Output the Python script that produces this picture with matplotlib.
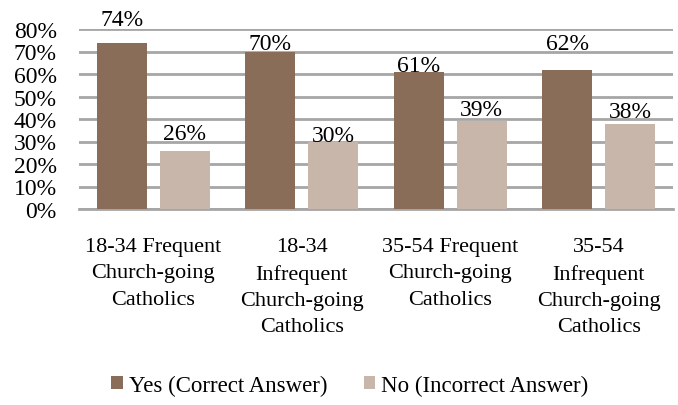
import matplotlib
matplotlib.use('Agg')
import matplotlib.pyplot as plt
import numpy as np
from matplotlib.ticker import FuncFormatter

plt.rcParams['font.family'] = ['Liberation Serif', 'DejaVu Serif']
plt.rcParams['font.size'] = 16

categories = ['18-34 Frequent\nChurch-going\nCatholics',
              '18-34\nInfrequent\nChurch-going\nCatholics',
              '35-54 Frequent\nChurch-going\nCatholics',
              '35-54\nInfrequent\nChurch-going\nCatholics']
yes_vals = [74, 70, 61, 62]
no_vals = [26, 30, 39, 38]
series_names = ['Yes (Correct Answer)', 'No (Incorrect Answer)']
colors = ['#8a6d58', '#c8b6aa']

# extra lift of each value label above its bar, in percentage points
yes_lift = [8.0, 1.3, 0.5, 9.3]
no_lift = [5.3, 0.2, 2.7, 3.1]

fig = plt.figure(figsize=(6.78, 4.06), dpi=100)
ax = fig.add_axes([79 / 678, 1 - 210 / 406, (673 - 79) / 678, 180 / 406])

x = np.arange(len(categories))
w = 0.337
off = 0.211
for vals, lift, dx, c, name in [(yes_vals, yes_lift, -off, colors[0], series_names[0]),
                                (no_vals, no_lift, off, colors[1], series_names[1])]:
    bars = ax.bar(x + dx, vals, w, color=c, label=name, zorder=3)
    for b, v, l in zip(bars, vals, lift):
        ax.text(b.get_x() + b.get_width() / 2, v + l, f'{v}%',
                ha='center', va='baseline', fontsize=17, clip_on=False)

ax.set_xlim(-0.5, len(categories) - 0.5)
ax.set_ylim(0, 80)
ax.set_yticks(range(0, 81, 10))
ax.yaxis.set_major_formatter(FuncFormatter(lambda v, p: f'{int(v)}%'))
ax.yaxis.grid(True, color='#a6a6a6', linewidth=2, zorder=0)
ax.set_axisbelow(True)
for s in ['top', 'right', 'left']:
    ax.spines[s].set_visible(False)
ax.spines['bottom'].set_color('#a6a6a6')
ax.spines['bottom'].set_linewidth(2)
ax.tick_params(axis='both', length=0)
ax.tick_params(axis='y', pad=16, labelsize=17)
ax.tick_params(axis='x', pad=20)
ax.set_xticks(x)
ax.set_xticklabels(categories, linespacing=1.53)

fig.legend(loc='center', bbox_to_anchor=(0.516, 1 - 386 / 406), ncol=2,
           frameon=False, handlelength=0.5, handleheight=0.5,
           handletextpad=0.25, columnspacing=1.6, fontsize=16.5)

fig.savefig('out.png', dpi=100)
